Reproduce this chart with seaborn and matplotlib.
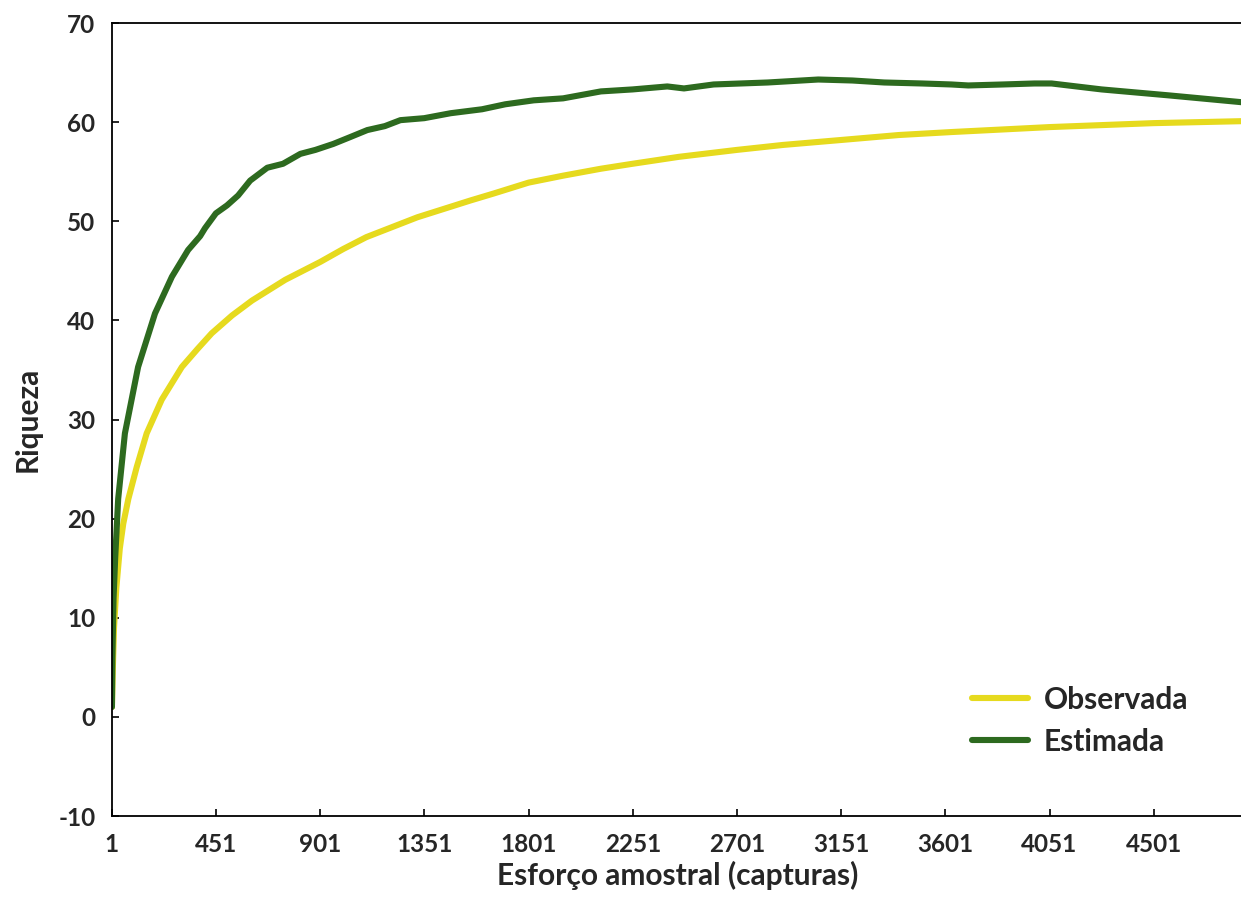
import matplotlib
matplotlib.use('Agg')
import matplotlib.pyplot as plt
import numpy as np
import pandas as pd
import seaborn as sns

sns.set_style('ticks')
plt.rcParams['font.family'] = ['Lato', 'DejaVu Sans']
plt.rcParams['axes.unicode_minus'] = False

# Curva observada (rarefacao)
obs_x = [1, 5, 10, 20, 35, 50, 72, 108, 151, 216, 303, 370, 432, 520, 606, 750,
         901, 1000, 1100, 1320, 1550, 1650, 1801, 1950, 2113, 2250, 2450, 2701,
         2900, 3151, 3400, 3627, 4051, 4501, 4886]
obs_y = [1, 5, 9, 13, 17, 19.5, 22, 25.2, 28.6, 32, 35.3, 37.1, 38.7, 40.5, 42, 44.1,
         45.9, 47.2, 48.4, 50.4, 52.1, 52.8, 53.9, 54.6, 55.3, 55.8, 56.5, 57.2,
         57.7, 58.2, 58.7, 59.0, 59.5, 59.9, 60.1]

# Curva estimada
est_x = [1, 3, 8, 15, 28, 57, 114, 187, 260, 330, 382, 403, 450, 498, 546, 598,
         672, 740, 815, 880, 957, 1031, 1104, 1180, 1247, 1350, 1464, 1600, 1700,
         1823, 1950, 2113, 2250, 2400, 2472, 2600, 2834, 3052, 3200, 3337, 3500,
         3627, 3700, 3850, 3986, 4060, 4276, 4566, 4886]
est_y = [1, 6, 12, 16, 22, 28.6, 35.3, 40.7, 44.4, 47.1, 48.5, 49.3, 50.8, 51.6,
         52.6, 54.1, 55.4, 55.8, 56.8, 57.2, 57.8, 58.5, 59.2, 59.6, 60.2, 60.4,
         60.9, 61.3, 61.8, 62.2, 62.4, 63.1, 63.3, 63.6, 63.4, 63.8, 64.0, 64.3,
         64.2, 64.0, 63.9, 63.8, 63.7, 63.8, 63.9, 63.9, 63.3, 62.7, 62.0]

x_ticks = [1, 451, 901, 1351, 1801, 2251, 2701, 3151, 3601, 4051, 4501]
y_ticks = [-10, 0, 10, 20, 30, 40, 50, 60, 70]

df = pd.concat([
    pd.DataFrame({'x': obs_x, 'y': obs_y, 'serie': 'Observada'}),
    pd.DataFrame({'x': est_x, 'y': est_y, 'serie': 'Estimada'}),
])

fig = plt.figure(figsize=(12.41, 9.13), dpi=100)
ax = fig.add_axes([0.0902, 0.1062, 0.912, 0.8686])

sns.lineplot(data=df, x='x', y='y', hue='serie', sort=False,
             palette={'Observada': '#E6DA1E', 'Estimada': '#2D6A1F'},
             linewidth=4.4, ax=ax)

ax.set_xlim(1, 4890)
ax.set_ylim(-10, 70)
ax.set_xticks(x_ticks)
ax.set_yticks(y_ticks)
ax.tick_params(direction='in', length=5, width=1.2, labelsize=17.5, color='black')
ax.tick_params(axis='x', pad=12)
ax.tick_params(axis='y', pad=12)
for lbl in ax.get_xticklabels() + ax.get_yticklabels():
    lbl.set_fontweight('bold')

for s in ['left', 'bottom', 'top']:
    ax.spines[s].set_linewidth(1.3)
    ax.spines[s].set_color('black')
ax.spines['right'].set_visible(False)

ax.set_xlabel('Esforço amostral (capturas)', fontsize=21.5, fontweight='bold', labelpad=4)
ax.set_ylabel('Riqueza', fontsize=21.5, fontweight='bold', labelpad=12)

leg = ax.legend(loc='lower right', bbox_to_anchor=(0.975, 0.042), frameon=False,
                fontsize=21.5, handlelength=1.85, labelspacing=0.48, handletextpad=0.55)
for t in leg.get_texts():
    t.set_fontweight('bold')
for h in leg.get_lines():
    h.set_linewidth(4.4)

fig.savefig('out.png', dpi=100, facecolor='white')
